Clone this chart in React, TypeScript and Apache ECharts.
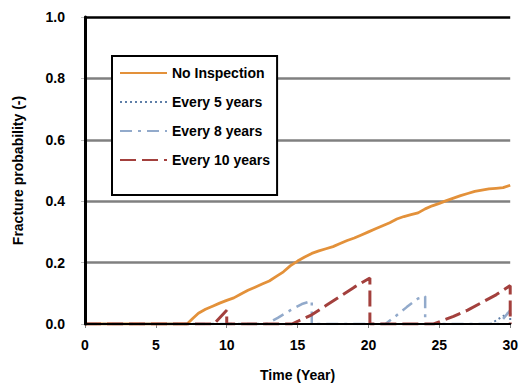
import React, { useEffect, useRef } from "react";
import * as echarts from "echarts";

const seriesNames = ["No Inspection", "Every 5 years", "Every 8 years", "Every 10 years"];

const noInspectionTime = [0, 7.2, 7.6, 8, 8.5, 9, 9.5, 10, 10.5, 11, 11.5, 12, 12.5, 13, 13.5, 14, 14.5, 15, 15.5, 16, 16.5, 17, 17.5, 18, 18.5, 19, 19.5, 20, 20.5, 21, 21.5, 22, 22.5, 23, 23.5, 24, 24.5, 25, 25.5, 26, 26.5, 27, 27.5, 28, 28.5, 29, 29.5, 30];
const noInspectionProb = [0, 0, 0.018, 0.035, 0.048, 0.058, 0.068, 0.077, 0.085, 0.098, 0.11, 0.12, 0.13, 0.14, 0.155, 0.17, 0.19, 0.205, 0.218, 0.23, 0.238, 0.245, 0.252, 0.262, 0.272, 0.28, 0.29, 0.3, 0.31, 0.32, 0.33, 0.342, 0.35, 0.356, 0.362, 0.375, 0.385, 0.393, 0.402, 0.41, 0.418, 0.425, 0.432, 0.436, 0.44, 0.442, 0.444, 0.452];

const every5Time = [0, 28.6, 29.3, 30, 30];
const every5Prob = [0, 0, 0.02, 0.04, 0];

const every8Time = [0, 12.8, 13.6, 14.5, 15.3, 16, 16, 21.2, 21.9, 22.7, 23.5, 24, 24, 29.2, 30];
const every8Prob = [0, 0, 0.02, 0.045, 0.065, 0.075, 0, 0, 0.025, 0.055, 0.083, 0.09, 0, 0, 0.045];

const every10Time = [0, 9.1, 10, 10, 14.6, 16, 17, 18, 19, 20.1, 20.1, 24.6, 26, 27, 28, 29, 30, 30];
const every10Prob = [0, 0, 0.045, 0, 0, 0.03, 0.06, 0.09, 0.12, 0.15, 0, 0, 0.025, 0.045, 0.07, 0.095, 0.125, 0];

const yTicks = ["0.0", "0.2", "0.4", "0.6", "0.8", "1.0"];

const zip = (t: number[], v: number[]) => t.map((x, i) => [x, v[i]]);

const FONT = "'Liberation Sans', Arial, sans-serif";

export default function App() {
  const ref = useRef<HTMLDivElement>(null);
  useEffect(() => {
    if (!ref.current) return;
    const chart = echarts.init(ref.current, undefined, { renderer: "svg" });
    chart.setOption({
      animation: false,
      backgroundColor: "#ffffff",
      grid: { left: 85, right: 3, top: 17, bottom: 58, containLabel: false },
      legend: {
        orient: "vertical",
        left: 112,
        top: 56,
        data: seriesNames,
        backgroundColor: "#ffffff",
        borderColor: "#000000",
        borderWidth: 2,
        borderRadius: 0,
        padding: [10, 7, 28, 7],
        itemWidth: 47,
        itemHeight: 14,
        itemGap: 15,
        itemStyle: { opacity: 0 },
        textStyle: { fontFamily: FONT, fontWeight: "bold", fontSize: 14, color: "#000" },
      },
      xAxis: [
        {
          type: "value",
          min: 0,
          max: 30,
          interval: 5,
          name: "Time (Year)",
          nameLocation: "middle",
          nameGap: 44,
          nameTextStyle: { fontFamily: FONT, fontWeight: "bold", fontSize: 14, color: "#000" },
          axisLine: { show: true, lineStyle: { color: "#808080", width: 2 } },
          axisTick: { show: true, length: 4, lineStyle: { color: "#808080" } },
          axisLabel: { margin: 14, fontFamily: FONT, fontWeight: "bold", fontSize: 14, color: "#000" },
          splitLine: { show: false },
        },
        {
          type: "value",
          position: "top",
          min: 0,
          max: 30,
          interval: 5,
          z: 10,
          axisLine: { show: true, lineStyle: { color: "#000", width: 2 } },
          axisTick: { show: false },
          axisLabel: { show: false },
          splitLine: { show: false },
        },
      ],
      yAxis: [
        {
          type: "value",
          min: 0,
          max: 1,
          interval: 0.2,
          name: "Fracture probability (-)",
          nameLocation: "middle",
          nameGap: 60,
          nameTextStyle: { fontFamily: FONT, fontWeight: "bold", fontSize: 14, color: "#000" },
          axisLine: { show: true, lineStyle: { color: "#808080", width: 2 } },
          axisTick: { show: true, length: 4, lineStyle: { color: "#c0c0c0" } },
          axisLabel: {
            margin: 20,
            fontFamily: FONT,
            fontWeight: "bold",
            fontSize: 14,
            color: "#000",
            formatter: (v: number) => yTicks[Math.round(v / 0.2)],
          },
          splitLine: {
            show: true,
            lineStyle: {
              color: ["rgba(0,0,0,0)", "#808080", "#808080", "#808080", "#808080", "#000000"],
              width: 2.5,
            },
          },
        },
        {
          type: "value",
          position: "right",
          min: 0,
          max: 1,
          interval: 0.2,
          z: 10,
          axisLine: { show: true, lineStyle: { color: "#000", width: 3 } },
          axisTick: { show: false },
          axisLabel: { show: false },
          splitLine: { show: false },
        },
      ],
      series: [
        {
          name: seriesNames[0],
          type: "line",
          symbol: "none",
          data: zip(noInspectionTime, noInspectionProb),
          lineStyle: { color: "#E3913A", width: 2.8 },
          itemStyle: { color: "#E3913A" },
          z: 2,
        },
        {
          name: seriesNames[1],
          type: "line",
          symbol: "none",
          data: zip(every5Time, every5Prob),
          lineStyle: { color: "#5F7FA8", width: 2, type: [2, 3] },
          itemStyle: { color: "#5F7FA8" },
          z: 3,
        },
        {
          name: seriesNames[2],
          type: "line",
          symbol: "none",
          data: zip(every8Time, every8Prob),
          lineStyle: { color: "#92AACB", width: 2.5, type: [12, 6, 3, 6] },
          itemStyle: { color: "#92AACB" },
          z: 4,
        },
        {
          name: seriesNames[3],
          type: "line",
          symbol: "none",
          data: zip(every10Time, every10Prob),
          lineStyle: { color: "#A3403D", width: 3, type: [16, 6] },
          itemStyle: { color: "#A3403D" },
          z: 5,
        },
      ],
    });
    return () => chart.dispose();
  }, []);
  return (
    <div
      ref={ref}
      style={{ position: "fixed", left: 0, top: 0, width: 521, height: 387 }}
    />
  );
}
